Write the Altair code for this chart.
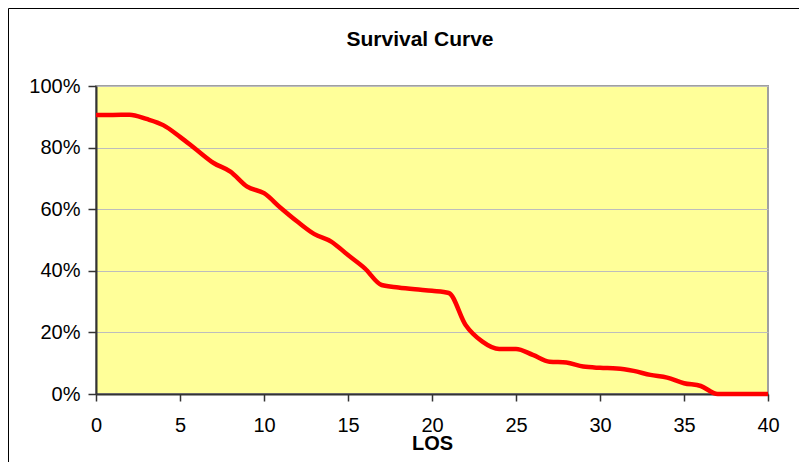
import altair as alt
import pandas as pd

los = list(range(0, 41))
survival_pct = [90.6, 90.6, 90.7, 89.3, 87.3, 83.5, 79.2, 75.0, 72.2, 67.3,
                65.2, 60.4, 55.9, 51.9, 49.5, 45.1, 40.8, 35.4, 34.6, 34.0,
                33.5, 32.8, 22.4, 17.0, 14.6, 14.6, 12.7, 10.5, 10.2, 8.9,
                8.5, 8.3, 7.5, 6.2, 5.3, 3.5, 2.6, 0.0, 0.0, 0.0, 0.0]

df = pd.DataFrame({"LOS": los, "Survival": [v / 100 for v in survival_pct]})

FONT = "Liberation Sans"
W, H = 672, 308

line = alt.Chart(df).mark_line(
    color="#FF0000", strokeWidth=4.5, interpolate="monotone"
).encode(
    x=alt.X("LOS:Q", scale=alt.Scale(domain=[0, 40], nice=False),
            axis=alt.Axis(values=list(range(0, 41, 5)), title="LOS",
                          grid=False, tickSize=7, labelPadding=30,
                          labelBaseline="alphabetic", titleBaseline="alphabetic",
                          titleY=55, titleFontSize=20, titleFontWeight="bold",
                          labelFlush=False)),
    y=alt.Y("Survival:Q", scale=alt.Scale(domain=[0, 1], nice=False),
            axis=alt.Axis(values=[0, 0.2, 0.4, 0.6, 0.8, 1.0], format=".0%",
                          title=None, grid=True, tickSize=8, labelPadding=8,
                          gridColor="#BDBDBD", gridWidth=1)),
)

border = alt.Chart(alt.Data(values=[{}])).mark_rect(
    fill=None, stroke="#000000", strokeWidth=1, clip=False
).encode(
    x=alt.value(-87.5), x2=alt.value(W + 200),
    y=alt.value(-77.5), y2=alt.value(H + 200),
)

chart = alt.layer(border, line).properties(
    width=W, height=H,
    autosize=alt.AutoSizeParams(type="none"),
    padding={"left": 88, "top": 78, "right": 31, "bottom": 68},
    title=alt.TitleParams("Survival Curve", font=FONT, fontSize=21,
                          fontWeight="bold", anchor="middle", frame="group",
                          baseline="alphabetic", offset=-58.5, dx=-12,
                          color="#000000"),
).configure_view(
    fill="#FFFF99", stroke="#A0A0A0", strokeWidth=2
).configure_axis(
    labelFont=FONT, titleFont=FONT, labelFontSize=20, labelColor="#000000",
    titleColor="#000000", domainColor="#333333", domainWidth=2,
    tickColor="#333333", tickWidth=1.5,
)

chart.save("out.html", embed_options={"renderer": "svg", "actions": False})
